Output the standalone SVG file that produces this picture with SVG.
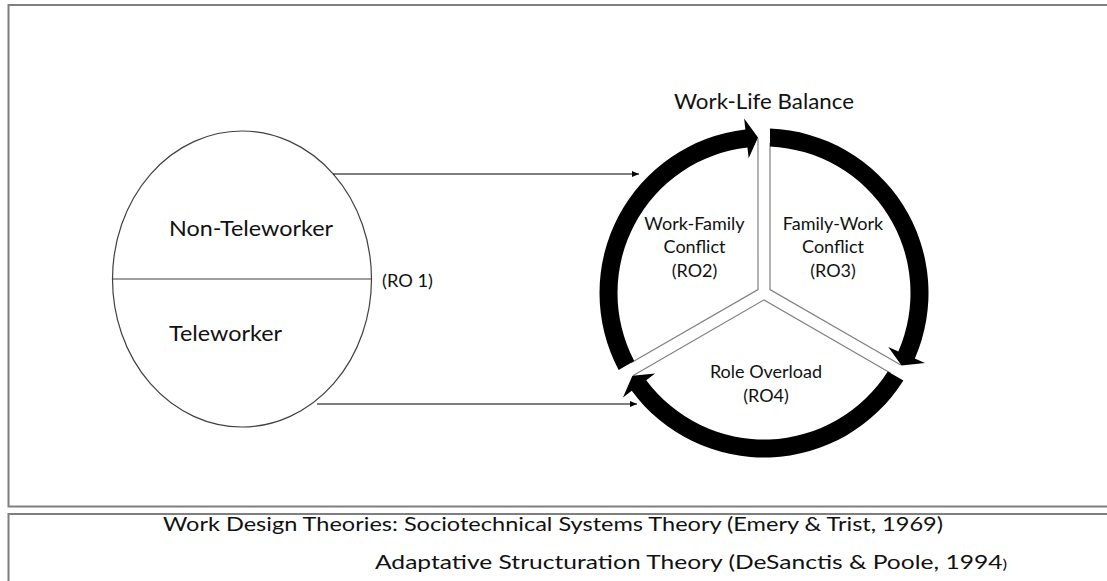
<svg xmlns="http://www.w3.org/2000/svg" xmlns:xlink="http://www.w3.org/1999/xlink" width="1107" height="581" viewBox="0 0 1107 581">
<style>
  .frame { fill: none; stroke: #7f7f7f; stroke-width: 2; }
  .pop { fill: #ffffff; stroke: #404040; stroke-width: 1.2; }
  .t { font-family: Lato, "Open Sans", "Liberation Sans", sans-serif; fill: #111111; }
  .big { font-size: 22px; }
  .mid { font-size: 18px; }
  .foot { font-size: 20px; }
  .div { fill: none; stroke: #808080; stroke-width: 1.2; }
  .ring { fill: #000000; stroke: none; }
  .conn { fill: none; stroke: #000000; stroke-width: 1.2; }
</style>
<defs>
  <marker id="ah" viewBox="0 0 7 6" refX="7" refY="3" markerWidth="7" markerHeight="6" markerUnits="userSpaceOnUse" orient="auto">
    <path d="M0,0 L7,3 L0,6 Z" fill="#000000"/>
  </marker>
  <g id="seg">
    <polyline class="div" points="6,-150 6,-3.46 136.8,72.04"/>
    <path class="ring" d="M6,-164.39 A164.5,164.5 0 0 1 150.86,65.60 L160.95,69.98 L137.55,72.52 L124.26,54.03 L134.35,58.42 A146.5,146.5 0 0 0 6,-146.38 Z"/>
  </g>
</defs>

<rect class="frame" x="8.5" y="5" width="1110" height="501.5"/>
<rect class="frame" x="8.5" y="514" width="1110" height="80"/>

<g id="population">
  <ellipse class="pop" cx="242" cy="279" rx="129.5" ry="148"/>
  <line x1="112.5" y1="279" x2="371.5" y2="279" stroke="#404040" stroke-width="1.2"/>
  <text class="t big" x="169" y="236" textLength="164" lengthAdjust="spacingAndGlyphs">Non-Teleworker</text>
  <text class="t big" x="169" y="341" textLength="113" lengthAdjust="spacingAndGlyphs">Teleworker</text>
</g>

<g id="ro1">
  <text class="t mid" x="382" y="287" textLength="51" lengthAdjust="spacingAndGlyphs">(RO 1)</text>
</g>

<g id="work-life-balance">
  <text class="t big" x="764" y="109" text-anchor="middle" textLength="180" lengthAdjust="spacingAndGlyphs">Work-Life Balance</text>
</g>

<g id="family-work-conflict">
  <use xlink:href="#seg" href="#seg" transform="translate(764,293)"/>
  <text class="t mid" x="833" y="229.5" text-anchor="middle">Family-Work</text>
  <text class="t mid" x="833" y="253" text-anchor="middle">Conflict</text>
  <text class="t mid" x="833" y="276.5" text-anchor="middle">(RO3)</text>
</g>

<g id="role-overload">
  <use xlink:href="#seg" href="#seg" transform="translate(764,293) rotate(120)"/>
  <text class="t mid" x="766" y="378" text-anchor="middle">Role Overload</text>
  <text class="t mid" x="766" y="401.5" text-anchor="middle">(RO4)</text>
</g>

<g id="work-family-conflict">
  <use xlink:href="#seg" href="#seg" transform="translate(764,293) rotate(240)"/>
  <text class="t mid" x="694.5" y="229.5" text-anchor="middle">Work-Family</text>
  <text class="t mid" x="694.5" y="253" text-anchor="middle">Conflict</text>
  <text class="t mid" x="694.5" y="276.5" text-anchor="middle">(RO2)</text>
</g>

<g id="connectors">
  <line class="conn" x1="333" y1="174" x2="639" y2="174" marker-end="url(#ah)"/>
  <line class="conn" x1="317" y1="404" x2="637" y2="404" marker-end="url(#ah)"/>
</g>

<g id="theories">
  <text class="t foot" x="163" y="531" textLength="780" lengthAdjust="spacingAndGlyphs">Work Design Theories: Sociotechnical Systems Theory (Emery &amp; Trist, 1969)</text>
  <text class="t foot" x="375" y="569" textLength="632" lengthAdjust="spacingAndGlyphs">Adaptative Structuration Theory (DeSanctis &amp; Poole, 1994<tspan font-size="14">)</tspan></text>
</g>
</svg>
